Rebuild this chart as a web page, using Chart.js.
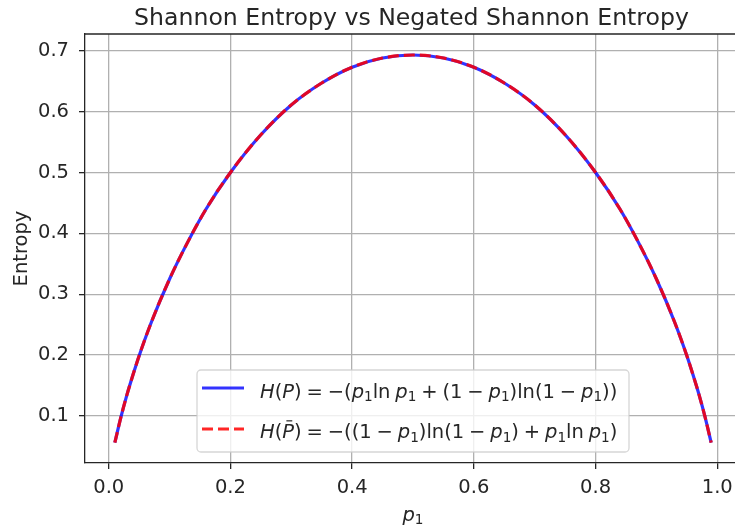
<!DOCTYPE html>
<html>
<head>
<meta charset="utf-8">
<script src="https://cdn.jsdelivr.net/npm/chart.js@4.4.1/dist/chart.umd.min.js"></script>
<style>
  html, body { margin: 0; padding: 0; background: #fff; overflow: hidden; }
  canvas { display: block; }
</style>
</head>
<body>
<canvas id="entropyChart" width="760" height="529"></canvas>
<script>
// values
const pValues   = [0.01, 0.02, 0.03, 0.04, 0.05, 0.07, 0.10, 0.13, 0.16, 0.20, 0.25, 0.30, 0.35, 0.40, 0.45, 0.50,
                   0.55, 0.60, 0.65, 0.70, 0.75, 0.80, 0.84, 0.87, 0.90, 0.93, 0.95, 0.96, 0.97, 0.98, 0.99];
const entropyH  = [0.056, 0.098, 0.135, 0.168, 0.199, 0.254, 0.325, 0.386, 0.440, 0.500, 0.562, 0.611, 0.647, 0.673, 0.688, 0.693,
                   0.688, 0.673, 0.647, 0.611, 0.562, 0.500, 0.440, 0.386, 0.325, 0.254, 0.199, 0.168, 0.135, 0.098, 0.056];
const entropyNeg = [0.056, 0.098, 0.135, 0.168, 0.199, 0.254, 0.325, 0.386, 0.440, 0.500, 0.562, 0.611, 0.647, 0.673, 0.688, 0.693,
                   0.688, 0.673, 0.647, 0.611, 0.562, 0.500, 0.440, 0.386, 0.325, 0.254, 0.199, 0.168, 0.135, 0.098, 0.056];
const xTickLabels = ['0.0', '0.2', '0.4', '0.6', '0.8', '1.0'];
const yTickLabels = ['0.1', '0.2', '0.3', '0.4', '0.5', '0.6', '0.7'];

const chartTitle = 'Shannon Entropy vs Negated Shannon Entropy';
const yTitle = 'Entropy';
// mini markup: H P p italic, ~ = P with bar, _x subscript
const legendLabels = [
  'H(P) = −(p_1ln p_1 + (1 − p_1)ln(1 − p_1))',
  'H(~) = −((1 − p_1)ln(1 − p_1) + p_1ln p_1)'
];
const lineColors = ['rgba(0,0,255,0.8)', 'rgba(255,0,0,0.85)'];

const FONT = '"DejaVu Sans", sans-serif';
const TEXT = '#262626';

function toPoints(ys) {
  return pValues.map(function (p, i) { return { x: p, y: ys[i] }; });
}

// split the markup into runs of same style
function mathRuns(str) {
  var runs = [];
  for (var i = 0; i < str.length; i++) {
    var c = str[i];
    if (c === '_') { runs.push({ t: str[i + 1], s: 'sub' }); i++; continue; }
    if (c === '~') { runs.push({ t: 'P', s: 'it', bar: true }); continue; }
    if (c === ' ') { runs.push({ t: ' ', s: 'sp' }); continue; }
    runs.push({ t: c, s: 'HPp'.indexOf(c) >= 0 ? 'it' : 'rm' });
  }
  return runs;
}

function runFont(r, size) {
  if (r.s === 'it') return 'italic ' + size + 'px ' + FONT;
  if (r.s === 'sub') return (size * 0.7).toFixed(1) + 'px ' + FONT;
  return size + 'px ' + FONT;
}

function drawMath(ctx, str, x, y, size) {
  var runs = mathRuns(str);
  ctx.textAlign = 'left';
  ctx.textBaseline = 'alphabetic';
  var cx = x;
  runs.forEach(function (r) {
    if (r.s === 'sp') { cx += size * 0.25; return; }
    ctx.font = runFont(r, size);
    var w = ctx.measureText(r.t).width;
    var dy = r.s === 'sub' ? size * 0.2 : 0;
    ctx.fillText(r.t, cx, y + dy);
    if (r.bar) {
      ctx.save();
      ctx.strokeStyle = ctx.fillStyle;
      ctx.lineWidth = 1.2;
      ctx.beginPath();
      ctx.moveTo(cx + w * 0.35, y - size * 0.88);
      ctx.lineTo(cx + w * 0.85, y - size * 0.88);
      ctx.stroke();
      ctx.restore();
    }
    cx += w;
  });
  return cx - x;
}

const annotations = {
  id: 'annotations',
  afterDraw: function (chart) {
    var ctx = chart.ctx;
    var area = chart.chartArea;
    ctx.save();

    // top and right spines
    ctx.strokeStyle = TEXT;
    ctx.lineWidth = 1.3;
    ctx.beginPath();
    ctx.moveTo(area.left, area.top);
    ctx.lineTo(area.right, area.top);
    ctx.lineTo(area.right, area.bottom);
    ctx.stroke();

    ctx.fillStyle = TEXT;
    ctx.font = '23.6px ' + FONT;
    ctx.textAlign = 'center';
    ctx.textBaseline = 'alphabetic';
    ctx.fillText(chartTitle, 411.5, 25);

    // y axis title
    ctx.save();
    ctx.translate(27, (area.top + area.bottom) / 2);
    ctx.rotate(-Math.PI / 2);
    ctx.font = '19.5px ' + FONT;
    ctx.fillText(yTitle, 0, 0);
    ctx.restore();

    // x axis title p_1
    ctx.font = 'italic 19.5px ' + FONT;
    var pw = ctx.measureText('p').width;
    ctx.font = '13.6px ' + FONT;
    var sw = ctx.measureText('1').width;
    drawMath(ctx, 'p_1', (area.left + area.right) / 2 - (pw + sw) / 2, 520.5, 19.5);

    // legend
    var bx = 197, by = 370, bw = 432, bh = 82;
    ctx.fillStyle = 'rgba(255,255,255,0.8)';
    ctx.strokeStyle = 'rgba(204,204,204,0.8)';
    ctx.lineWidth = 1.3;
    ctx.beginPath();
    ctx.roundRect(bx, by, bw, bh, 4);
    ctx.fill();
    ctx.stroke();

    var rows = [{ line: 388, base: 397.5 }, { line: 429, base: 438 }];
    legendLabels.forEach(function (label, i) {
      var ds = chart.data.datasets[i];
      ctx.strokeStyle = ds.borderColor;
      ctx.lineWidth = ds.borderWidth;
      ctx.setLineDash(ds.borderDash || []);
      ctx.beginPath();
      ctx.moveTo(202, rows[i].line);
      ctx.lineTo(244, rows[i].line);
      ctx.stroke();
      ctx.setLineDash([]);
      ctx.fillStyle = TEXT;
      drawMath(ctx, label, 260, rows[i].base, 19.5);
    });

    ctx.restore();
  }
};

new Chart(document.getElementById('entropyChart'), {
  type: 'line',
  data: {
    datasets: [
      {
        label: legendLabels[0],
        data: toPoints(entropyH),
        borderColor: lineColors[0],
        borderWidth: 3.2,
        pointRadius: 0,
        cubicInterpolationMode: 'monotone',
        fill: false,
        order: 2
      },
      {
        label: legendLabels[1],
        data: toPoints(entropyNeg),
        borderColor: lineColors[1],
        borderWidth: 3.2,
        borderDash: [11, 5],
        pointRadius: 0,
        cubicInterpolationMode: 'monotone',
        fill: false,
        order: 1
      }
    ]
  },
  options: {
    responsive: false,
    animation: false,
    devicePixelRatio: 1,
    layout: { padding: { top: 34, right: 19, left: 0, bottom: 0 } },
    plugins: {
      legend: { display: false },
      title: { display: false },
      tooltip: { enabled: false }
    },
    scales: {
      x: {
        type: 'linear',
        min: -0.039,
        max: 1.039,
        afterBuildTicks: function (scale) {
          scale.ticks = xTickLabels.map(function (t) { return { value: parseFloat(t) }; });
        },
        afterFit: function (scale) { scale.height = 66; },
        ticks: {
          autoSkip: false,
          maxRotation: 0,
          padding: 7,
          color: TEXT,
          font: { family: FONT, size: 19.5 },
          callback: function (v, i) { return xTickLabels[i]; }
        },
        grid: { color: '#b0b0b0', lineWidth: 1.3, tickColor: TEXT, tickLength: 6, tickWidth: 1.3 },
        border: { color: TEXT, width: 1.3 }
      },
      y: {
        min: 0.0227,
        max: 0.7275,
        afterBuildTicks: function (scale) {
          scale.ticks = yTickLabels.map(function (t) { return { value: parseFloat(t) }; });
        },
        afterFit: function (scale) { scale.width = 85; },
        ticks: {
          autoSkip: false,
          padding: 10,
          color: TEXT,
          font: { family: FONT, size: 19.5 },
          callback: function (v, i) { return yTickLabels[i]; }
        },
        grid: { color: '#b0b0b0', lineWidth: 1.3, tickColor: TEXT, tickLength: 6, tickWidth: 1.3 },
        border: { color: TEXT, width: 1.3 }
      }
    }
  },
  plugins: [annotations]
});
</script>
</body>
</html>
